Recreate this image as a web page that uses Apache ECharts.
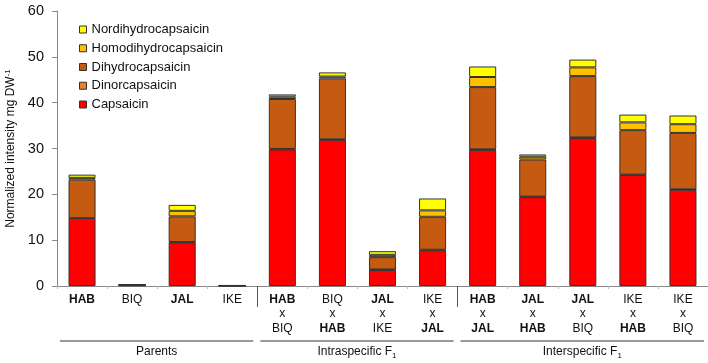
<!DOCTYPE html>
<html>
<head>
<meta charset="utf-8">
<script src="https://cdn.jsdelivr.net/npm/echarts@6/dist/echarts.min.js"></script>
<style>
  html, body { margin: 0; padding: 0; background: #fff; }
  #chart { width: 708px; height: 363px; }
</style>
</head>
<body>
<div id="chart"></div>
<script>
// categories (crosses written as female \n x \n male)
var categories = ['HAB', 'BIQ', 'JAL', 'IKE',
  'HAB\nx\nBIQ', 'BIQ\nx\nHAB', 'JAL\nx\nIKE', 'IKE\nx\nJAL',
  'HAB\nx\nJAL', 'JAL\nx\nHAB', 'JAL\nx\nBIQ', 'IKE\nx\nHAB', 'IKE\nx\nBIQ'];
var boldNames = ['HAB', 'JAL'];

// stacked values, bottom to top
var capsaicin        = [14.7, 0.15, 9.5, 0.05, 29.8, 31.9, 3.5, 7.8, 29.7, 19.4, 32.3, 24.2, 21.0];
var dinorcapsaicin   = [0.1, 0.03, 0.1, 0.02, 0.1, 0.1, 0.1, 0.1, 0.1, 0.1, 0.1, 0.1, 0.1];
var dihydrocapsaicin = [8.4, 0.05, 5.6, 0.03, 10.9, 13.3, 2.7, 7.2, 13.6, 8.1, 13.4, 9.7, 12.3];
var homodihydro      = [0.4, 0.02, 1.2, 0.01, 0.5, 0.4, 0.5, 1.4, 2.2, 0.6, 1.9, 1.7, 1.9];
var nordihydro       = [0.7, 0.02, 1.3, 0.01, 0.5, 0.9, 0.8, 2.6, 2.3, 0.5, 1.7, 1.7, 1.9];

var groupNames = ['Parents', 'Intraspecific F{s|1}', 'Interspecific F{s|1}'];
var groupStart = [0, 4, 8];
var groupEnd   = [3, 7, 12];

var font = "'Liberation Sans', Arial, sans-serif";

var chart = echarts.init(document.getElementById('chart'));

function mkSeries(name, data, color) {
  return {
    name: name,
    type: 'bar',
    stack: 'total',
    barWidth: '54%',
    data: data,
    itemStyle: { color: color, borderColor: '#333', borderWidth: 1 },
    emphasis: { disabled: true }
  };
}

var option = {
  animation: false,
  textStyle: { fontFamily: font },
  grid: { left: 57, right: 0, top: 11, bottom: 77, outerBoundsMode: 'none' },
  legend: {
    orient: 'vertical',
    left: 79,
    top: 23,
    padding: 0,
    itemWidth: 7,
    itemHeight: 7,
    itemGap: 5.75,
    icon: 'rect',
    itemStyle: { borderColor: '#333', borderWidth: 1 },
    textStyle: { fontSize: 13, color: '#111', fontFamily: font },
    data: ['Nordihydrocapsaicin', 'Homodihydrocapsaicin', 'Dihydrocapsaicin', 'Dinorcapsaicin', 'Capsaicin']
  },
  xAxis: [{
    type: 'category',
    data: categories,
    axisLine: { lineStyle: { color: '#888' } },
    axisTick: { show: true, length: 3, lineStyle: { color: '#bbb' } },
    axisLabel: {
      interval: 0,
      margin: 6,
      color: '#111',
      fontSize: 12,
      lineHeight: 14.5,
      formatter: function (v) {
        return v.split('\n').map(function (s) {
          return boldNames.indexOf(s) >= 0 ? '{b|' + s + '}' : '{n|' + s + '}';
        }).join('\n');
      },
      rich: {
        b: { fontWeight: 'bold', fontSize: 12, lineHeight: 14.5, fontFamily: font, color: '#111' },
        n: { fontSize: 12, lineHeight: 14.5, fontFamily: font, color: '#111' }
      }
    }
  }, {
    // long separators between groups
    type: 'category',
    data: categories,
    position: 'bottom',
    axisLine: { show: false },
    axisLabel: { show: false },
    axisTick: {
      show: true,
      length: 21,
      interval: function (i) { return i === 4 || i === 8; },
      lineStyle: { color: '#555' }
    }
  }],
  yAxis: {
    type: 'value',
    min: 0,
    max: 60,
    interval: 10,
    name: 'Normalized intensity mg DW{sup|-1}',
    nameLocation: 'middle',
    nameGap: 38,
    nameTextStyle: {
      fontSize: 12,
      color: '#111',
      fontFamily: font,
      rich: { sup: { fontSize: 8, padding: [0, 0, 6, 0], fontFamily: font, color: '#111' } }
    },
    axisLine: { show: true, lineStyle: { color: '#888' } },
    axisTick: { show: true, length: 5, lineStyle: { color: '#888' } },
    axisLabel: { fontSize: 14.5, color: '#111', margin: 13 },
    splitLine: { show: false }
  },
  series: [
    mkSeries('Capsaicin', capsaicin, '#ff0000'),
    mkSeries('Dinorcapsaicin', dinorcapsaicin, '#ed7d31'),
    mkSeries('Dihydrocapsaicin', dihydrocapsaicin, '#c55a11'),
    mkSeries('Homodihydrocapsaicin', homodihydro, '#ffc000'),
    mkSeries('Nordihydrocapsaicin', nordihydro, '#ffff00')
  ]
};
chart.setOption(option);

// group underlines and names, placed from the category axis
var x0 = chart.convertToPixel({ xAxisIndex: 0 }, 0);
var band = chart.convertToPixel({ xAxisIndex: 0 }, 1) - x0;
var graphics = [];
for (var g = 0; g < groupNames.length; g++) {
  var left = chart.convertToPixel({ xAxisIndex: 0 }, groupStart[g]) - band / 2 + 3;
  var right = chart.convertToPixel({ xAxisIndex: 0 }, groupEnd[g]) + band / 2 - 4;
  graphics.push({
    type: 'line',
    shape: { x1: left, y1: 341, x2: right, y2: 341 },
    style: { stroke: '#333', lineWidth: 1 }
  });
  graphics.push({
    type: 'text',
    x: (left + right) / 2,
    y: 352,
    style: {
      text: groupNames[g],
      fontSize: 12,
      fontFamily: font,
      fill: '#111',
      align: 'center',
      verticalAlign: 'middle',
      rich: { s: { fontSize: 8, padding: [8, 0, 0, 0], fontFamily: font, fill: '#111' } }
    }
  });
}
chart.setOption({ graphic: graphics });
</script>
</body>
</html>
